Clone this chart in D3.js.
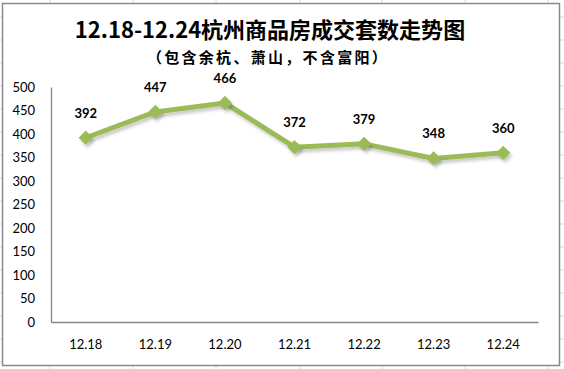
<!DOCTYPE html>
<html>
<head>
<meta charset="utf-8">
<script src="https://cdn.jsdelivr.net/npm/d3@7"></script>
<style>
  body { margin: 0; background: #fff; }
  svg { display: block; }
</style>
</head>
<body>
<div id="chart"></div>
<script>
// chart data
const days = ["12.18", "12.19", "12.20", "12.21", "12.22", "12.23", "12.24"];
const deals = [392, 447, 466, 372, 379, 348, 360];
const yTicks = [0, 50, 100, 150, 200, 250, 300, 350, 400, 450, 500];

const W = 564, H = 369;
const margin = { top: 87, right: 26, bottom: 47, left: 51 };
const width = W - margin.left - margin.right;
const height = H - margin.top - margin.bottom;

const svg = d3.select("#chart").append("svg")
  .attr("width", W)
  .attr("height", H);

// faint spreadsheet grid outside the chart
const colX = [50, 133, 216, 300, 382, 465, 548];
const rowY = d3.range(17, H, 23);
svg.append("g").selectAll("line.c").data(colX).join("line")
  .attr("x1", d => d).attr("x2", d => d).attr("y1", 0).attr("y2", H)
  .attr("stroke", "#d4dbe8");
svg.append("g").selectAll("line.r").data(rowY).join("line")
  .attr("x1", 0).attr("x2", W).attr("y1", d => d).attr("y2", d => d)
  .attr("stroke", "#d4dbe8");

// chart frame
svg.append("rect")
  .attr("x", 2.5).attr("y", 3.5)
  .attr("width", 557).attr("height", 362)
  .attr("fill", "#fff")
  .attr("stroke", "#8a8a8a")
  .attr("stroke-width", 1.5);

const defs = svg.append("defs");
const f = defs.append("filter").attr("id", "shadow")
  .attr("x", "-20%").attr("y", "-20%").attr("width", "140%").attr("height", "160%");
f.append("feDropShadow")
  .attr("dx", 2).attr("dy", 3).attr("stdDeviation", 1.8)
  .attr("flood-color", "#000").attr("flood-opacity", 0.2);

// titles
svg.append("text")
  .attr("x", 270).attr("y", 38)
  .attr("text-anchor", "middle")
  .style("font-family", "'Noto Sans CJK SC', sans-serif")
  .style("font-weight", "bold")
  .style("font-size", "22px")
  .attr("fill", "#000")
  .text("12.18-12.24杭州商品房成交套数走势图");

svg.append("text")
  .attr("x", 268).attr("y", 63)
  .attr("text-anchor", "middle")
  .style("font-family", "'Noto Sans CJK SC', sans-serif")
  .style("font-weight", "bold")
  .style("font-size", "15px")
  .style("letter-spacing", "2.3px")
  .attr("fill", "#000")
  .text("（包含余杭、萧山，不含富阳）");

const g = svg.append("g")
  .attr("transform", `translate(${margin.left}, ${margin.top})`);

const x = d3.scaleBand().domain(days).range([0, width]);
const y = d3.scaleLinear().domain([0, 500]).range([height, 0]);

// axes
const yAxis = d3.axisLeft(y).tickValues(yTicks).tickSize(0).tickPadding(10);
const xAxis = d3.axisBottom(x).tickSize(0).tickPadding(18);

const gy = g.append("g").call(yAxis);
const gx = g.append("g").attr("transform", `translate(0, ${height})`).call(xAxis);
[gx, gy].forEach(a => {
  a.select(".domain").attr("stroke", "#868686").attr("stroke-width", 1.3);
  a.selectAll("text")
    .style("font-family", "Lato, 'Open Sans', sans-serif")
    .style("font-size", "13px")
    .attr("fill", "#000");
});
gy.selectAll("text").attr("dx", -6);

// line
const line = d3.line()
  .x((d, i) => x(days[i]) + x.bandwidth() / 2)
  .y(d => y(d));

g.append("path")
  .datum(deals)
  .attr("fill", "none")
  .attr("stroke", "#9bbb59")
  .attr("stroke-width", 5)
  .attr("stroke-linejoin", "round")
  .attr("filter", "url(#shadow)")
  .attr("d", line);

// diamond markers
g.selectAll("path.pt").data(deals).join("path")
  .attr("class", "pt")
  .attr("d", d3.symbol().type(d3.symbolDiamond2).size(130))
  .attr("transform", (d, i) => `translate(${x(days[i]) + x.bandwidth() / 2}, ${y(d)})`)
  .attr("fill", "#9bbb59")
  .attr("filter", "url(#shadow)");

// value labels
g.selectAll("text.lbl").data(deals).join("text")
  .attr("class", "lbl")
  .attr("x", (d, i) => x(days[i]) + x.bandwidth() / 2)
  .attr("y", d => y(d) - 20)
  .attr("text-anchor", "middle")
  .style("font-family", "Lato, 'Open Sans', sans-serif")
  .style("font-weight", "bold")
  .style("font-size", "13px")
  .attr("fill", "#000")
  .text(d => d);
</script>
</body>
</html>
